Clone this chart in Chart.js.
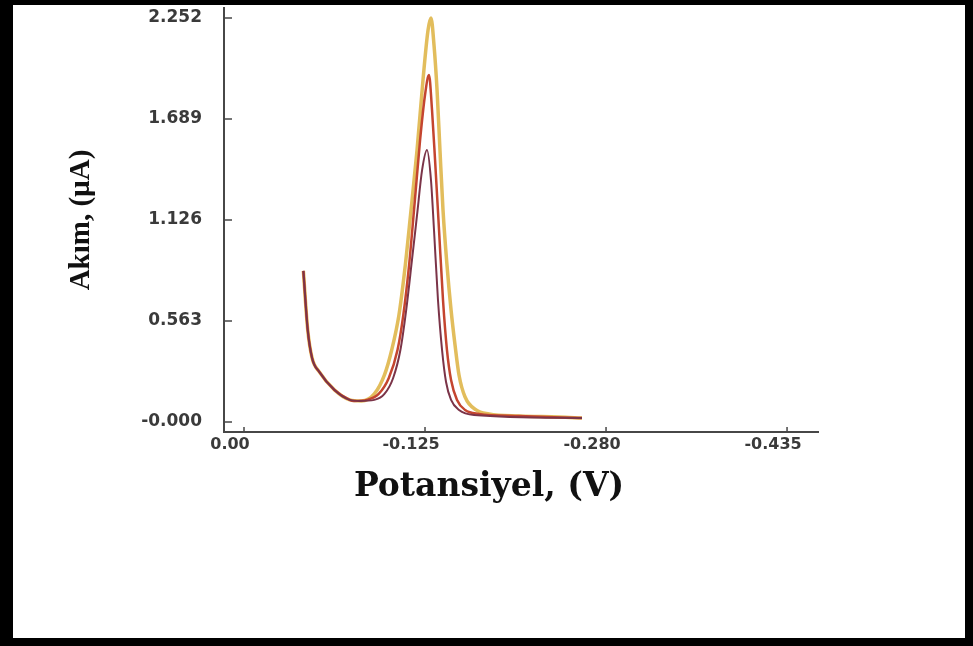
<!DOCTYPE html>
<html>
<head>
<meta charset="utf-8">
<script src="https://cdn.jsdelivr.net/npm/chart.js@4.4.1/dist/chart.umd.min.js"></script>
<style>
  html, body { margin: 0; padding: 0; background: #fff; }
  #frame {
    position: absolute; left: 0; top: 0;
    width: 973px; height: 646px;
    box-sizing: border-box;
    border-style: solid; border-color: #000;
    border-width: 5px 8px 8px 13px;
    background: #fff;
  }
  canvas { display: block; }
</style>
</head>
<body>
<div id="frame"><canvas id="chart" width="952" height="633"></canvas></div>
<script>
// axis ticks (the x ticks are evenly spaced on the plot, not linear in volts)
var tickVolts = [0, -0.125, -0.280, -0.435];
var tickLabels = ['0.00', '-0.125', '-0.280', '-0.435'];
var yTickValues = [0, 0.563, 1.126, 1.689, 2.252];
var yTickLabels = ['-0.000', '0.563', '1.126', '1.689', '2.252'];

// yellow curve (highest peak)
var potYellow = [-0.041, -0.044, -0.047, -0.052, -0.0625, -0.073, -0.081, -0.090, -0.097, -0.102,
                 -0.107, -0.111, -0.115, -0.1195, -0.1236, -0.1276, -0.1301, -0.1327, -0.1353, -0.1378,
                 -0.1404, -0.1438, -0.1473, -0.1507, -0.1541, -0.1593, -0.1687, -0.1798, -0.2055, -0.2398,
                 -0.2594];
var curYellow = [0.842, 0.513, 0.357, 0.279, 0.178, 0.123, 0.117, 0.156, 0.262, 0.401,
                 0.596, 0.847, 1.154, 1.516, 1.906, 2.185, 2.252, 2.101, 1.851, 1.516,
                 1.182, 0.875, 0.624, 0.429, 0.262, 0.139, 0.067, 0.045, 0.033, 0.028,
                 0.022];

// red curve
var potRed = [-0.041, -0.044, -0.047, -0.052, -0.0625, -0.073, -0.076, -0.085, -0.093, -0.100,
              -0.106, -0.110, -0.114, -0.118, -0.1216, -0.125, -0.1284, -0.131, -0.1336, -0.137,
              -0.1404, -0.1438, -0.1473, -0.1524, -0.1593, -0.1712, -0.2055, -0.2594];
var curRed = [0.842, 0.513, 0.357, 0.279, 0.178, 0.123, 0.117, 0.123, 0.156, 0.245,
              0.401, 0.596, 0.875, 1.237, 1.572, 1.823, 1.934, 1.739, 1.460, 1.070,
              0.680, 0.401, 0.234, 0.123, 0.067, 0.045, 0.033, 0.022];

// dark curve (lowest peak)
var potDark = [-0.041, -0.044, -0.047, -0.052, -0.0625, -0.073, -0.080, -0.090, -0.097, -0.103,
               -0.108, -0.112, -0.116, -0.1195, -0.123, -0.1267, -0.1301, -0.1327, -0.1361, -0.1396,
               -0.143, -0.1473, -0.1541, -0.167, -0.2594];
var curDark = [0.842, 0.513, 0.357, 0.279, 0.178, 0.123, 0.117, 0.123, 0.156, 0.245,
               0.401, 0.624, 0.903, 1.154, 1.405, 1.516, 1.349, 1.070, 0.680, 0.401,
               0.223, 0.123, 0.067, 0.039, 0.022];

// potential -> position along the evenly spaced x ticks
function axisPos(v) {
    for (var i = 0; i < tickVolts.length - 1; i++) {
        var a = tickVolts[i], b = tickVolts[i + 1];
        if (v >= b || i === tickVolts.length - 2) {
            return i + (v - a) / (b - a);
        }
    }
    return 0;
}

function toPoints(pot, cur) {
    var pts = [];
    for (var i = 0; i < pot.length; i++) {
        pts.push({x: axisPos(pot[i]), y: cur[i]});
    }
    return pts;
}

var axisColor = '#474747';

// short inward tick marks, like the original plot
var innerTicks = {
    id: 'innerTicks',
    afterDraw: function(chart) {
        var ctx = chart.ctx, area = chart.chartArea;
        var xs = chart.scales.x, ys = chart.scales.y;
        ctx.save();
        ctx.strokeStyle = axisColor;
        ctx.lineWidth = 1.5;
        ctx.beginPath();
        yTickValues.forEach(function(v) {
            var py = ys.getPixelForValue(v);
            ctx.moveTo(area.left, py);
            ctx.lineTo(area.left + 8, py);
        });
        tickVolts.forEach(function(v, i) {
            var px = xs.getPixelForValue(i);
            ctx.moveTo(px, area.bottom);
            ctx.lineTo(px, area.bottom - 5);
        });
        ctx.stroke();
        ctx.restore();
    }
};

var ctx = document.getElementById('chart').getContext('2d');
var myChart = new Chart(ctx, {
    type: 'line',
    plugins: [innerTicks],
    data: {
        datasets: [
            {
                label: 'dark',
                data: toPoints(potDark, curDark),
                borderColor: '#7b3448',
                borderWidth: 2,
                order: 1,
            },
            {
                label: 'red',
                data: toPoints(potRed, curRed),
                borderColor: '#c4452f',
                borderWidth: 2.5,
                order: 2,
            },
            {
                label: 'yellow',
                data: toPoints(potYellow, curYellow),
                borderColor: '#e2bd5c',
                borderWidth: 3.5,
                order: 3,
            },
        ],
    },
    options: {
        responsive: false,
        animation: false,
        elements: {
            point: { radius: 0 },
            line: { cubicInterpolationMode: 'monotone', fill: false },
        },
        layout: {
            padding: 0
        },
        plugins: {
            legend: { display: false },
            tooltip: { enabled: false },
            title: {
                display: true,
                position: 'bottom',
                text: 'Potansiyel, (V)',
                color: '#111',
                font: {family: 'DejaVu Serif', size: 33, weight: 'bold', lineHeight: 1.2},
                padding: {top: 0, bottom: 131},
            },
        },
        scales: {
            x: {
                type: 'linear',
                min: -0.1105,
                max: 3.171,
                afterBuildTicks: function(scale) {
                    scale.ticks = tickVolts.map(function(v, i) { return {value: i}; });
                },
                afterFit: function(scale) { scale.height = 35.4; },
                grid: { drawOnChartArea: false, drawTicks: false },
                border: { display: true, color: axisColor, width: 2 },
                ticks: {
                    color: '#3a3a3a',
                    font: {family: 'DejaVu Sans', size: 16, weight: 'bold'},
                    padding: 3,
                    labelOffset: -14,
                    maxRotation: 0,
                    autoSkip: false,
                    callback: function(value) { return tickLabels[value]; },
                },
            },
            y: {
                type: 'linear',
                min: -0.056,
                max: 2.308,
                afterBuildTicks: function(scale) {
                    scale.ticks = yTickValues.map(function(v) { return {value: v}; });
                },
                afterFit: function(scale) { scale.width = 211; },
                grid: {
                    drawOnChartArea: false,
                    drawTicks: true,
                    tickLength: 22,
                    tickColor: 'rgba(0,0,0,0)',
                },
                border: { display: true, color: axisColor, width: 2 },
                ticks: {
                    color: '#3a3a3a',
                    font: {family: 'DejaVu Sans', size: 17, weight: 'bold', lineHeight: 0.35},
                    padding: 0,
                    autoSkip: false,
                    callback: function(value, index) { return yTickLabels[index]; },
                },
                title: {
                    display: true,
                    text: 'Akım, (µA)',
                    color: '#111',
                    font: {family: 'Liberation Serif', size: 29, weight: 'bold', lineHeight: 1.2},
                    padding: {top: 51, bottom: 0},
                },
            },
            // empty space at the right of the plot
            yRight: {
                position: 'right',
                display: true,
                afterFit: function(scale) { scale.width = 147; },
                grid: { display: false },
                border: { display: false },
                ticks: { display: false },
            },
        },
    },
});
</script>
</body>
</html>
